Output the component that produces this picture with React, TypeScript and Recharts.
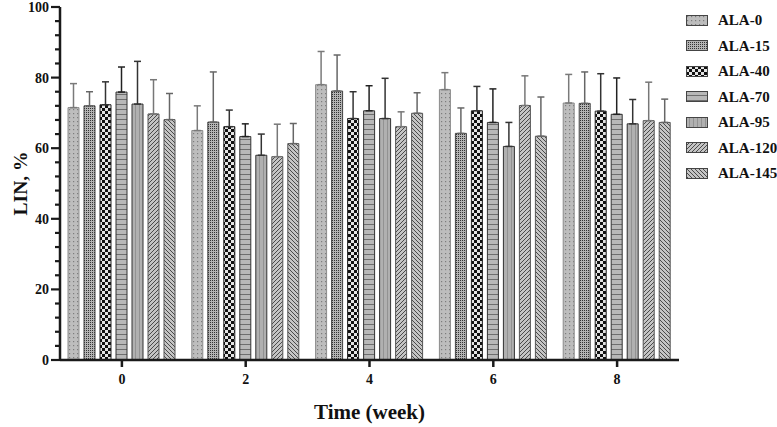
import React from 'react';
import { BarChart, Bar, XAxis, YAxis, ErrorBar, Legend } from 'recharts';

const weeks = ['0', '2', '4', '6', '8'];
const seriesNames = ['ALA-0', 'ALA-15', 'ALA-40', 'ALA-70', 'ALA-95', 'ALA-120', 'ALA-145'];

const ala0 = [71.5, 65.0, 78.0, 76.6, 72.8];
const ala15 = [72.0, 67.4, 76.2, 64.2, 72.7];
const ala40 = [72.3, 66.1, 68.4, 70.6, 70.5];
const ala70 = [75.9, 63.3, 70.6, 67.3, 69.6];
const ala95 = [72.5, 58.0, 68.4, 60.5, 66.9];
const ala120 = [69.7, 57.6, 66.1, 72.1, 67.8];
const ala145 = [68.1, 61.3, 69.9, 63.4, 67.3];

const sd0 = [6.8, 7.0, 9.4, 4.8, 8.1];
const sd15 = [4.0, 14.2, 10.2, 7.2, 8.9];
const sd40 = [6.5, 4.7, 7.6, 6.9, 10.6];
const sd70 = [7.1, 3.6, 7.1, 9.5, 10.3];
const sd95 = [12.1, 6.0, 11.4, 6.8, 6.9];
const sd120 = [9.7, 9.2, 4.2, 8.4, 10.9];
const sd145 = [7.4, 5.7, 5.8, 11.1, 6.6];

const yTicks = [0, 4, 8, 12, 16, 20, 24, 28, 32, 36, 40, 44, 48, 52, 56, 60, 64, 68, 72, 76, 80, 84, 88, 92, 96, 100];

const means = [ala0, ala15, ala40, ala70, ala95, ala120, ala145];
const sds = [sd0, sd15, sd40, sd70, sd95, sd120, sd145];

// one row per week, v0..v6 are means, e0..e6 are [down, up] errors (up only)
const data = weeks.map((w, i) => {
    const row: any = { week: w };
    means.forEach((arr, s) => {
        row['v' + s] = arr[i];
        row['e' + s] = [0, sds[s][i]];
    });
    return row;
});

const FONT = '"Liberation Serif", "Times New Roman", serif';
const AXIS = '#1a1a1a';

const styles = [
    { stroke: '#8a8a8a', err: '#7a7a7a' },
    { stroke: '#444', err: '#666' },
    { stroke: '#222', err: '#333' },
    { stroke: '#333', err: '#222' },
    { stroke: '#333', err: '#333' },
    { stroke: '#555', err: '#777' },
    { stroke: '#555', err: '#666' },
];

const Patterns = () => (
    <defs>
        <pattern id="pat0" width="4" height="4" patternUnits="userSpaceOnUse">
            <rect width="4" height="4" fill="#bdbdbd" />
            <rect x="1" y="1" width="1.2" height="1.2" fill="#7d7d7d" />
        </pattern>
        <pattern id="pat1" width="2" height="2" patternUnits="userSpaceOnUse">
            <rect width="2" height="2" fill="#b4b4b4" />
            <rect x="0" y="0" width="1" height="1" fill="#333" />
        </pattern>
        <pattern id="pat2" width="6" height="6" patternUnits="userSpaceOnUse">
            <rect width="6" height="6" fill="#e4e4e4" />
            <rect x="0" y="0" width="3" height="3" fill="#111" />
            <rect x="3" y="3" width="3" height="3" fill="#111" />
        </pattern>
        <pattern id="pat3" width="5" height="5" patternUnits="userSpaceOnUse">
            <rect width="5" height="5" fill="#b8b8b8" />
            <rect x="0" y="4" width="5" height="1" fill="#6e6e6e" />
        </pattern>
        <pattern id="pat4" width="4" height="4" patternUnits="userSpaceOnUse">
            <rect width="4" height="4" fill="#b0b0b0" />
            <rect x="3" y="0" width="0.8" height="4" fill="#8a8a8a" />
        </pattern>
        <pattern id="pat5" width="4" height="4" patternUnits="userSpaceOnUse">
            <rect width="4" height="4" fill="#c4c4c4" />
            <path d="M-1,1 l2,-2 M0,4 l4,-4 M3,5 l2,-2" stroke="#4a4a4a" strokeWidth="1" />
        </pattern>
        <pattern id="pat6" width="4" height="4" patternUnits="userSpaceOnUse">
            <rect width="4" height="4" fill="#c4c4c4" />
            <path d="M-1,3 l2,2 M0,0 l4,4 M3,-1 l2,2" stroke="#4a4a4a" strokeWidth="1" />
        </pattern>
    </defs>
);

const YTick = (props: any) => {
    const { x, y, payload } = props;
    const major = payload.value % 20 === 0;
    return (
        <g>
            <line x1={x - (major ? 9 : 5)} x2={x} y1={y} y2={y} stroke={AXIS} strokeWidth={2.2} />
            {major && (
                <text x={x - 11} y={y} dy={5} textAnchor="end" fontFamily={FONT} fontWeight="bold" fontSize={14} fill="#111">
                    {payload.value}
                </text>
            )}
        </g>
    );
};

const LegendBox = () => (
    <div style={{ fontFamily: FONT, fontWeight: 'bold', fontSize: 15, color: '#111', whiteSpace: 'nowrap' }}>
        {seriesNames.map((name, i) => (
            <div key={name} style={{ display: 'flex', alignItems: 'center', height: 25.5 }}>
                <svg width={22} height={12} style={{ marginRight: 10, flexShrink: 0 }}>
                    <rect x={0.5} y={0.5} width={21} height={10} fill={`url(#pat${i})`} stroke="#444" strokeWidth={1} />
                </svg>
                <span>{name}</span>
            </div>
        ))}
    </div>
);

export default function App() {
    return (
        <div style={{ position: 'absolute', left: 0, top: 0, background: '#fff' }}>
            <BarChart
                width={777}
                height={427}
                data={data}
                margin={{ top: 7, right: 98, bottom: 7, left: 0 }}
                barSize={11}
                barGap={5}
            >
                <Patterns />
                <XAxis
                    dataKey="week"
                    height={60}
                    axisLine={{ stroke: AXIS, strokeWidth: 2.5 }}
                    tickLine={{ stroke: AXIS, strokeWidth: 2.5 }}
                    tickSize={7}
                    tickMargin={7}
                    tick={{ fontFamily: FONT, fontWeight: 'bold', fontSize: 14, fill: '#111' }}
                    label={{ value: 'Time (week)', position: 'insideBottom', offset: 1, fontFamily: FONT, fontWeight: 'bold', fontSize: 21, fill: '#111' }}
                />
                <YAxis
                    width={60}
                    domain={[0, 100]}
                    ticks={yTicks}
                    interval={0}
                    axisLine={{ stroke: AXIS, strokeWidth: 2.5 }}
                    tickLine={false}
                    tickSize={0}
                    tickMargin={0}
                    tick={<YTick />}
                    label={{ value: 'LIN, %', angle: -90, position: 'center', dx: -10, fontFamily: FONT, fontWeight: 'bold', fontSize: 19.5, fill: '#111' }}
                />
                <Legend
                    layout="vertical"
                    align="center"
                    verticalAlign="middle"
                    content={<LegendBox />}
                    wrapperStyle={{ left: 686, top: 8, width: 91 }}
                />
                {seriesNames.map((name, s) => (
                    <Bar
                        key={name}
                        dataKey={'v' + s}
                        name={name}
                        fill={`url(#pat${s})`}
                        stroke={styles[s].stroke}
                        strokeWidth={1}
                        isAnimationActive={false}
                    >
                        <ErrorBar dataKey={'e' + s} width={3.5} stroke={styles[s].err} strokeWidth={1.5} isAnimationActive={false} />
                    </Bar>
                ))}
            </BarChart>
        </div>
    );
}
